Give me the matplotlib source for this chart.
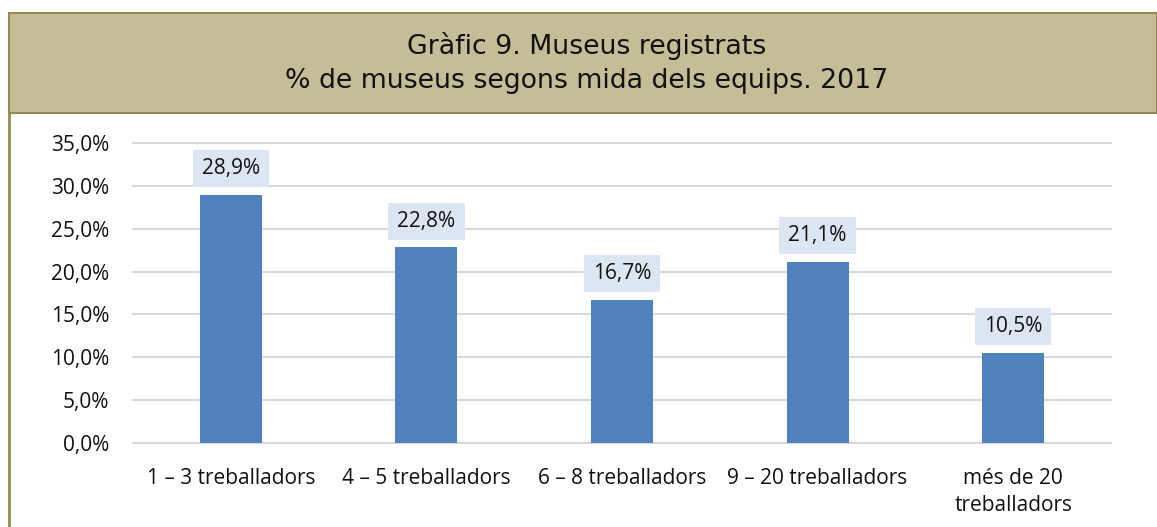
import matplotlib.pyplot as plt
from matplotlib.patches import Rectangle
from matplotlib.lines import Line2D

categories = ["1 – 3 treballadors", "4 – 5 treballadors", "6 – 8 treballadors",
              "9 – 20 treballadors", "més de 20\ntreballadors"]
values = [28.9, 22.8, 16.7, 21.1, 10.5]
yticks = [0, 5, 10, 15, 20, 25, 30, 35]

title1 = "Gràfic 9. Museus registrats"
title2 = "% de museus segons mida dels equips. 2017"

W, H = 1157, 527
fig = plt.figure(figsize=(W / 100, H / 100), dpi=100)
fig.patch.set_facecolor("white")

# title band
fig.patches.append(Rectangle((8.5 / W, 414 / H), 1 - 8.5 / W, 100.5 / H,
                             transform=fig.transFigure, facecolor="#C4BD97",
                             edgecolor="#948A54", linewidth=1.5, zorder=0))
fig.lines.append(Line2D([8.5 / W, 8.5 / W], [0, 414 / H], transform=fig.transFigure,
                        color="#948A54", linewidth=2))
fig.text(0.507, 481 / H, title1, ha="center", va="center", fontsize=19.3,
         family="DejaVu Sans", color="#111111")
fig.text(0.507, 446 / H, title2, ha="center", va="center", fontsize=19.3,
         family="DejaVu Sans", color="#111111")

ax = fig.add_axes([133 / W, 83.7 / H, 978 / W, 300.6 / H])
x = list(range(len(categories)))
ax.bar(x, values, width=0.317, color="#4F81BD", zorder=3)

# data label boxes
ax.bar(x, [4.3] * len(values), bottom=[v + 0.9 for v in values], width=0.39,
       color="#DCE6F2", zorder=3)
for xi, v in zip(x, values):
    ax.text(xi, v + 0.9 + 2.15, f"{v:.1f}%".replace(".", ","), ha="center",
            va="center", fontsize=15, family="Open Sans", color="#111111", zorder=4)

ax.set_xlim(-0.5, len(categories) - 0.5)
ax.set_ylim(0, 35)
ax.set_yticks(yticks)
ax.set_yticklabels([f"{t:.1f}%".replace(".", ",") for t in yticks],
                   fontsize=15, family="Open Sans")
ax.set_xticks(x)
ax.set_xticklabels(categories, fontsize=15, family="Open Sans", linespacing=1.35)
ax.tick_params(axis="both", length=0, colors="#111111")
ax.tick_params(axis="y", pad=17)
ax.tick_params(axis="x", pad=18)
ax.grid(axis="y", color="#D9D9D9", linewidth=1.5, zorder=0)
for gl in ax.get_ygridlines():
    gl.set_clip_on(False)
for s in ax.spines.values():
    s.set_visible(False)

fig.savefig("out.png", dpi=100)
